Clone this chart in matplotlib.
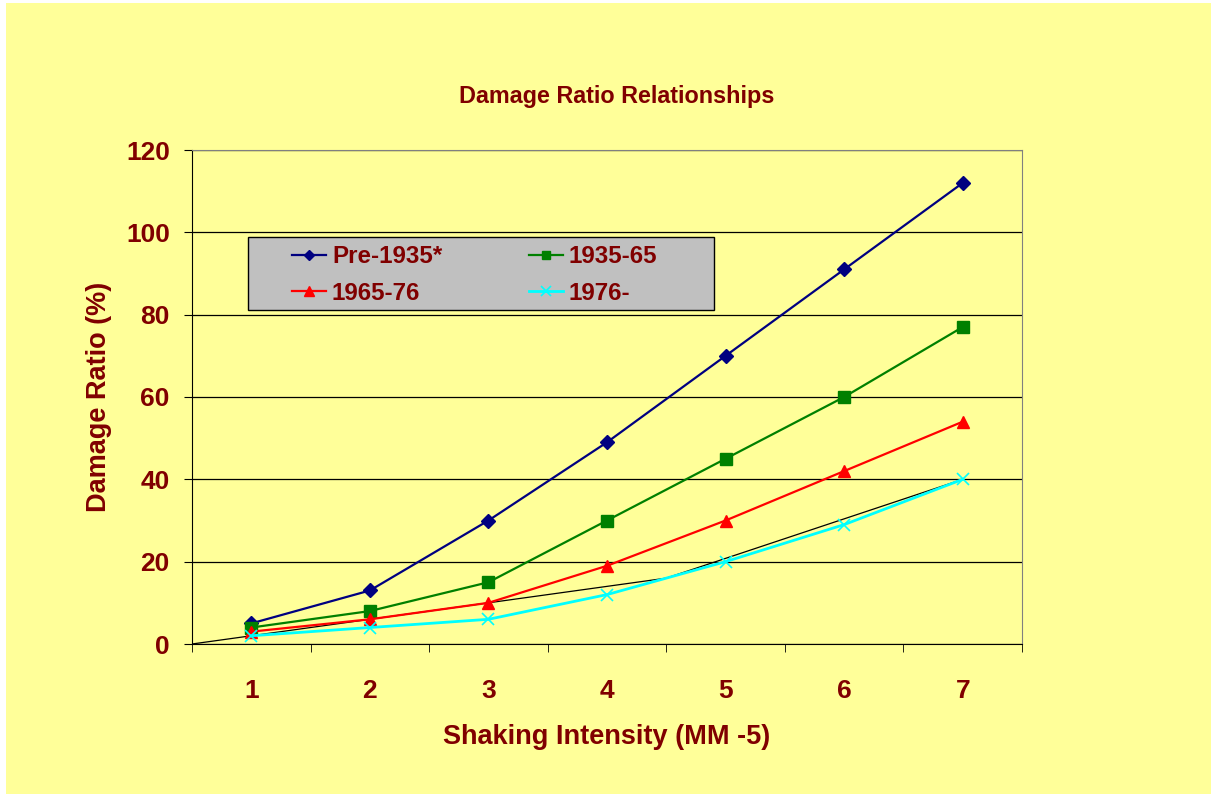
import matplotlib.pyplot as plt
from matplotlib.patches import Rectangle

# damage ratio (%) by shaking intensity for each construction era
intensity = [1, 2, 3, 4, 5, 6, 7]
pre_1935 = [5, 13, 30, 49, 70, 91, 112]
era_1935_65 = [4, 8, 15, 30, 45, 60, 77]
era_1965_76 = [3, 6, 10, 19, 30, 42, 54]
era_1976 = [2, 4, 6, 12, 20, 29, 40]

# thin reference line
ref_x = [0.5, 4.5, 7]
ref_y = [0, 16, 40]

yticks = [0, 20, 40, 60, 80, 100, 120]

bg = '#FFFF99'
text_col = '#800000'
plt.rcParams['font.family'] = ['Liberation Sans', 'DejaVu Sans']

fig = plt.figure(figsize=(12.16, 7.94), dpi=100, facecolor='white')
fig.patches.append(Rectangle((6 / 1216, 0), 1205 / 1216, 791 / 794,
                             transform=fig.transFigure, facecolor=bg,
                             edgecolor='none', zorder=-10))
ax = fig.add_axes([192 / 1216, 150 / 794, 830 / 1216, 494 / 794])
ax.set_facecolor(bg)

ax.plot(ref_x, ref_y, color='black', lw=0.9, zorder=2)
l1, = ax.plot(intensity, pre_1935, color='#000080', marker='D', ms=7, lw=1.6, label='Pre-1935*', zorder=3)
l2, = ax.plot(intensity, era_1935_65, color='#008000', marker='s', ms=8, lw=1.6, label='1935-65', zorder=3)
l3, = ax.plot(intensity, era_1965_76, color='#FF0000', marker='^', ms=9, lw=1.6, label='1965-76', zorder=3)
l4, = ax.plot(intensity, era_1976, color='#00FFFF', marker='x', ms=9, mew=1.2, lw=2.0, label='1976-', zorder=3)

ax.set_xlim(0.5, 7.5)
ax.set_ylim(0, 120)
ax.set_yticks(yticks)
ax.set_xticks(intensity)
ax.set_xticks([i + 0.5 for i in range(0, 8)], minor=True)
ax.tick_params(axis='x', which='major', length=0, pad=25)
ax.tick_params(axis='x', which='minor', length=6, direction='out', color='black')
ax.tick_params(axis='y', length=6, direction='out', color='black', pad=10)
for lab in ax.get_xticklabels() + ax.get_yticklabels():
    lab.set_fontsize(19)
    lab.set_fontweight('bold')
    lab.set_color(text_col)

ax.grid(axis='y', color='black', lw=0.9)
ax.set_axisbelow(True)
for side in ['top', 'right']:
    ax.spines[side].set_color('#808080')
for side in ['left', 'bottom']:
    ax.spines[side].set_color('black')

ax.set_xlabel('Shaking Intensity (MM -5)', fontsize=19.5, fontweight='bold', color=text_col, labelpad=15)
ax.set_ylabel('Damage Ratio (%)', fontsize=19.5, fontweight='bold', color=text_col, labelpad=10)
fig.text(617 / 1216, 1 - 97 / 794, 'Damage Ratio Relationships', ha='center', va='center',
         fontsize=16.8, fontweight='bold', color=text_col)

# grey legend box, entries laid out row by row
ax.add_patch(Rectangle((56 / 830, 334 / 494), 466 / 830, 73 / 494, transform=ax.transAxes,
                       facecolor='#C0C0C0', edgecolor='black', lw=1.0, zorder=4))
leg = ax.legend([l1, l3, l2, l4], ['Pre-1935*', '1965-76', '1935-65', '1976-'],
                loc='upper left', bbox_to_anchor=(100 / 830, (644 - 245) / 494),
                ncol=2, frameon=False, labelcolor=text_col,
                prop={'weight': 'bold', 'size': 17.4}, handlelength=1.4,
                markerscale=0.8, borderpad=0, labelspacing=0.57, handletextpad=0.25,
                columnspacing=3.6, borderaxespad=0)
leg.set_zorder(5)

fig.savefig('out.png', dpi=100, facecolor=fig.get_facecolor())
